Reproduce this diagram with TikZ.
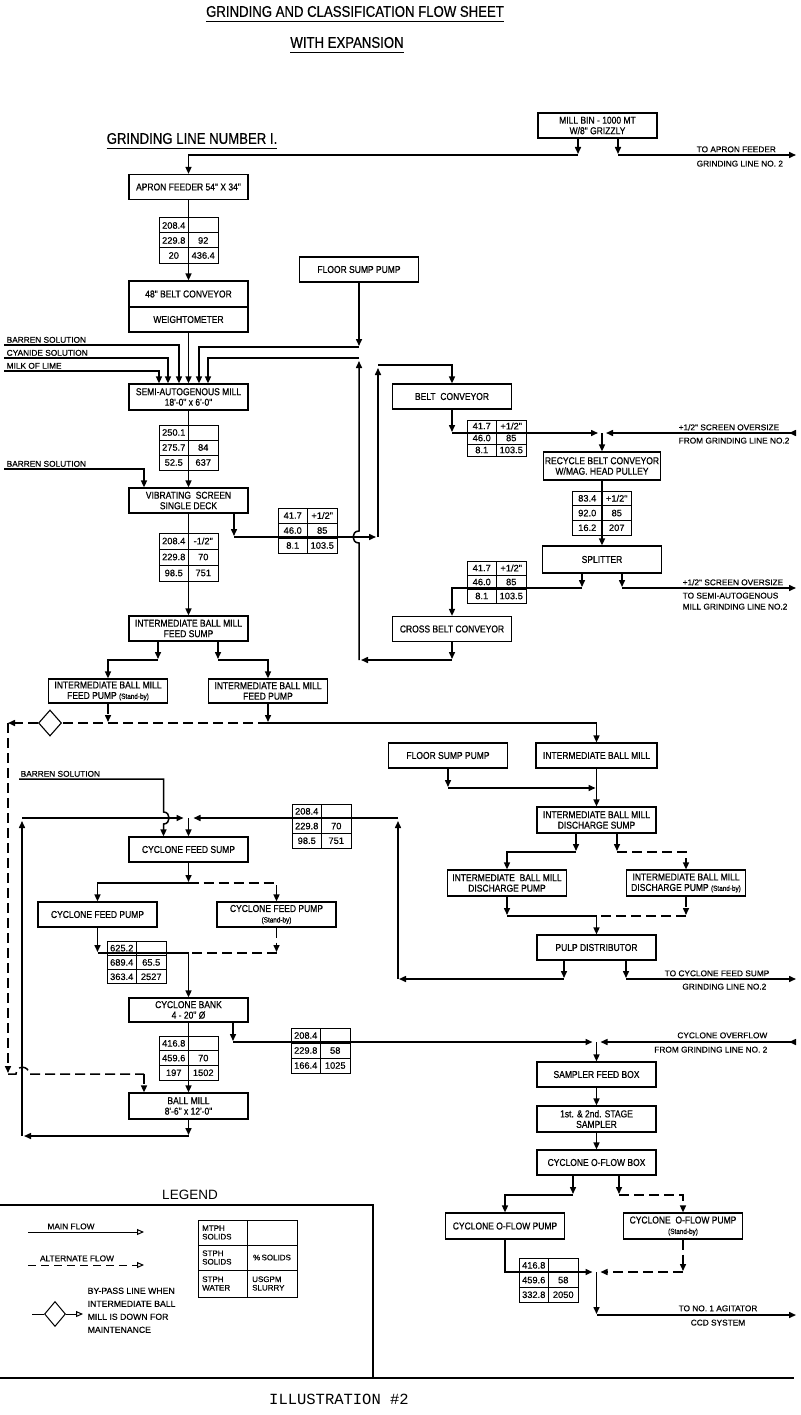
\documentclass[tikz,border=0pt]{standalone}
\usepackage{fontspec}
\setmainfont{Liberation Sans}
\newfontfamily\narrow[FakeStretch=0.85,FakeBold=0.6]{Liberation Sans}
\newfontfamily\lblfont[FakeBold=0.4]{Liberation Sans}
\newfontfamily\monofont{Liberation Mono}
\usetikzlibrary{arrows.meta,shapes.geometric}

\tikzset{
  unit/.style={draw, line width=1.2pt, minimum width=119pt, minimum height=25pt, inner sep=1pt, align=center, font={\narrow\fontsize{10}{10.5}\selectfont}},
  flow/.style={line width=1.5pt},
  alt/.style={flow, dash pattern=on 10pt off 5pt},
  lbl/.style={inner sep=0.5pt, font={\lblfont\fontsize{8.3}{11}\selectfont}},
  ttl/.style={inner sep=0pt, font={\narrow\fontsize{15.5}{17}\selectfont}},
  cell/.style={inner sep=0pt, font={\lblfont\fontsize{9.3}{9.5}\selectfont}},
  tabline/.style={line width=1pt},
  valve/.style={draw, diamond, line width=1.1pt, inner sep=0pt},
  >={Triangle[length=7pt,width=6pt]},
  inlet/.style={flow, {Triangle[reversed,length=7pt,width=6pt]}->},
}
\newcommand\sby{{\fontsize{7.5}{9}\selectfont(Stand-by)}}

% data table: [row height]{name}{top left}{six cells}
\newcommand\flowtab[9][15]{%
  \begin{scope}[shift={(#3)}]
    \draw[tabline] (0,0) rectangle (59,3*#1);
    \draw[tabline] (29.5,0) -- (29.5,3*#1) (0,#1) -- (59,#1) (0,2*#1) -- (59,2*#1);
    \node[cell] (#2-1) at (14.75,0.5*#1) {#4};
    \node[cell] (#2-2) at (44.25,0.5*#1) {#5};
    \node[cell] (#2-3) at (14.75,1.5*#1) {#6};
    \node[cell] (#2-4) at (44.25,1.5*#1) {#7};
    \node[cell] (#2-5) at (14.75,2.5*#1) {#8};
    \node[cell] (#2-6) at (44.25,2.5*#1) {#9};
  \end{scope}}

\begin{document}
\begin{tikzpicture}[x=1pt,y=-1pt]
\useasboundingbox (0,0) rectangle (800,1415);

% titles
\node[ttl] (title1) at (355,11.5) {GRINDING AND CLASSIFICATION FLOW SHEET};
\node[ttl] (title2) at (347,42.5) {WITH EXPANSION};
\node[ttl] (line1) at (192,138.5) {GRINDING LINE NUMBER I.};
\foreach \t in {title1,title2,line1}
  \draw[line width=1.3pt] ([yshift=-4pt]\t.south west) -- ([yshift=-4pt]\t.south east);

% units
\node[unit] (bin) at (597.5,125.5) {MILL BIN - 1000 MT\\W/8" GRIZZLY};
\node[unit] (apron) at (188.5,187) {APRON FEEDER 54" X 34"};
\node[unit, minimum height=26pt] (belt48) at (188.5,294) {48" BELT CONVEYOR};
\node[unit] (weigh) at (188.5,319.5) {WEIGHTOMETER};
\node[unit] (fsp1) at (359,269.5) {FLOOR SUMP PUMP};
\node[unit, minimum height=26pt] (sag) at (188.5,397) {SEMI-AUTOGENOUS MILL\\18'-0" x 6'-0"};
\node[unit] (screen) at (188.5,500.5) {VIBRATING \ SCREEN\\SINGLE DECK};
\node[unit] (feedsump) at (188.5,628.5) {INTERMEDIATE BALL MILL\\FEED SUMP};
\node[unit, minimum height=24pt] (ibmpumpsb) at (108,691) {INTERMEDIATE BALL MILL\\FEED PUMP \sby};
\node[unit, minimum height=24pt] (ibmpump) at (268,691) {INTERMEDIATE BALL MILL\\FEED PUMP};
\node[unit] (beltc) at (452,396.5) {BELT \ CONVEYOR};
\node[unit, minimum width=117pt, minimum height=28pt] (recycle) at (602,466) {RECYCLE BELT CONVEYOR\\W/MAG. HEAD PULLEY};
\node[unit, minimum height=27pt] (splitter) at (602,559.5) {SPLITTER};
\node[unit] (crossbelt) at (452,629) {CROSS BELT CONVEYOR};
\node[unit] (fsp2) at (448,755.5) {FLOOR SUMP PUMP};
\node[unit, minimum width=121pt] (ibm) at (596.5,755.5) {INTERMEDIATE BALL MILL};
\node[unit, minimum height=26pt] (dsump) at (596.5,820) {INTERMEDIATE BALL MILL\\DISCHARGE SUMP};
\node[unit, minimum height=26pt] (dpump) at (507,883) {INTERMEDIATE \ BALL MILL\\DISCHARGE PUMP};
\node[unit, minimum height=26pt] (dpumpsb) at (686,883) {INTERMEDIATE BALL MILL\\DISCHARGE PUMP \sby};
\node[unit] (pulp) at (596.5,947.5) {PULP DISTRIBUTOR};
\node[unit] (cfsump) at (188.5,849.5) {CYCLONE FEED SUMP};
\node[unit] (cfpump) at (97.5,914.5) {CYCLONE FEED PUMP};
\node[unit] (cfpumpsb) at (276.5,914.5) {CYCLONE FEED PUMP\\\sby};
\node[unit, minimum height=24pt] (cbank) at (188.5,1010) {CYCLONE BANK\\4 - 20" Ø};
\node[unit, minimum height=26pt] (ballmill) at (188.5,1106) {BALL MILL\\8'-6" x 12'-0"};
\node[unit] (sfbox) at (596.5,1074.5) {SAMPLER FEED BOX};
\node[unit, minimum height=26pt] (sampler) at (596.5,1119) {1st. \& 2nd. STAGE\\SAMPLER};
\node[unit] (ofbox) at (596.5,1162.5) {CYCLONE O-FLOW BOX};
\node[unit, minimum height=26pt] (ofpump) at (505,1226) {CYCLONE O-FLOW PUMP};
\node[unit, minimum height=26pt] (ofpumpsb) at (683,1226) {CYCLONE \ O-FLOW PUMP\\\sby};
\node[valve, minimum width=23pt, minimum height=26pt] (bypass) at (50,723) {};

% tables
\flowtab{t1}{159,218}{208.4}{}{229.8}{92}{20}{436.4}
\flowtab{t2}{159,425}{250.1}{}{275.7}{84}{52.5}{637}
\flowtab[16]{t3}{159,533}{208.4}{-1/2"}{229.8}{70}{98.5}{751}
\flowtab{t4}{278,508}{41.7}{+1/2"}{46.0}{85}{8.1}{103.5}
\flowtab[12]{t5}{467,420}{41.7}{+1/2"}{46.0}{85}{8.1}{103.5}
\flowtab[14.7]{t6}{572.5,491}{83.4}{+1/2"}{92.0}{85}{16.2}{207}
\flowtab[14]{t7}{467,561}{41.7}{+1/2"}{46.0}{85}{8.1}{103.5}
\flowtab[14.7]{t8}{292,804}{208.4}{}{229.8}{70}{98.5}{751}
\flowtab[14.3]{t9}{107,941}{625.2}{}{689.4}{65.5}{363.4}{2527}
\flowtab[14.7]{t10}{159,1036}{416.8}{}{459.6}{70}{197}{1502}
\flowtab{t11}{291,1028}{208.4}{}{229.8}{58}{166.4}{1025}
\flowtab[14.7]{t12}{519,1258}{416.8}{}{459.6}{58}{332.8}{2050}

% mill bin to apron feeder
\coordinate (jA) at (578,155);
\coordinate (jB) at (618,155);
\coordinate (toApron) at (796,155);
\draw[flow,->,shorten >=1pt] (bin.south -| jA) -- (jA);
\draw[flow,->] (jA) -| (apron.north);
\draw[flow,->,shorten >=1pt] (bin.south -| jB) -- (jB);
\draw[flow,->] (jB) -- (toApron);
\node[lbl, anchor=south west] (lapr1) at (696,153) {TO APRON FEEDER};
\node[lbl, anchor=north west] (lapr2) at (696,160) {GRINDING LINE NO. 2};

\draw[flow,->] (apron) -- (belt48);
\draw[flow,->] (weigh) -- (sag);

% solutions into SAG mill
\coordinate (bs1) at (4,345);
\coordinate (cs1) at (4,358);
\coordinate (ml1) at (4,371);
\draw[flow,->] (bs1) -| ([xshift=-9.5pt]sag.north);
\draw[flow,->] (cs1) -| ([xshift=-20.5pt]sag.north);
\draw[flow,->] (ml1) -| ([xshift=-29.5pt]sag.north);
\node[lbl, anchor=south west] (lbs1) at (6,343.5) {BARREN SOLUTION};
\node[lbl, anchor=south west] (lcs1) at (6,356.5) {CYANIDE SOLUTION};
\node[lbl, anchor=south west] (lml1) at (6,369.5) {MILK OF LIME};

% floor sump pump to SAG mill
\coordinate (jC) at (359,347);
\draw[flow,->,shorten >=1pt] (fsp1) -- (jC);
\draw[flow,->] (jC) -| ([xshift=10.5pt]sag.north);

% cross belt conveyor back to SAG mill
\coordinate (jD) at (452,660);
\coordinate (jE) at (359,660);
\coordinate (jF) at (359,358);
\draw[flow,->,shorten >=1pt] (crossbelt) -- (jD);
\draw[flow,->,shorten >=2pt] (jD) -- (jE);
\draw[flow,->,shorten >=3pt] (jE) -- (359,543) .. controls (351,543) and (351,531) .. (359,531) -- (jF);
\draw[flow,->] (jF) -| ([xshift=19.5pt]sag.north);

% SAG mill to screen
\draw[flow,->] (sag) -- (screen);
\coordinate (bs2) at (4,469);
\draw[flow,->] (bs2) -| ([xshift=-44.5pt]screen.north);
\node[lbl, anchor=south west] (lbs2) at (6,467.5) {BARREN SOLUTION};

% screen oversize to belt conveyor
\coordinate (jG) at (234,537);
\coordinate (jH) at (378,537);
\coordinate (jI) at (378,365);
\draw[flow,->,shorten >=1pt] (screen.south -| jG) -- (jG);
\draw[flow,->,shorten >=2pt] (jG) -- (jH);
\draw[flow,->,shorten >=3pt] (jH) -- (jI);
\draw[flow,->] (jI) -| (beltc.north);

% belt conveyor to recycle belt conveyor
\coordinate (jJ) at (452,433);
\coordinate (jK) at (602,433);
\coordinate (fromOs) at (796,433);
\draw[flow,->,shorten >=1pt] (beltc) -- (jJ);
\draw[flow,->,shorten >=4pt] (jJ) -- (jK);
\draw[inlet,shorten >=4pt] (fromOs) -- (jK);
\draw[flow,->] (jK) -- (recycle);
\node[lbl, anchor=south west] (los1) at (678,431) {+1/2" SCREEN OVERSIZE};
\node[lbl, anchor=north west] (los2) at (678,437) {FROM GRINDING LINE NO.2};
\draw[flow,->] (recycle) -- (splitter);

% splitter
\coordinate (jL) at (582,588);
\coordinate (jM) at (622,588);
\coordinate (toSag2) at (796,588);
\draw[flow,->,shorten >=1pt] (splitter.south -| jL) -- (jL);
\draw[flow,->] (jL) -| (crossbelt.north);
\draw[flow,->,shorten >=1pt] (splitter.south -| jM) -- (jM);
\draw[flow,->] (jM) -- (toSag2);
\node[lbl, anchor=south west] (lsp1) at (682,586) {+1/2" SCREEN OVERSIZE};
\node[lbl, anchor=north west, align=left] (lsp2) at (682,592) {TO SEMI-AUTOGENOUS\\MILL GRINDING LINE NO.2};

% screen undersize to intermediate ball mill
\draw[flow,->] (screen) -- (feedsump);
\coordinate (jN) at (158,660);
\coordinate (jO) at (218,660);
\draw[flow,->,shorten >=1pt] (feedsump.south -| jN) -- (jN);
\draw[flow,->] (jN) -| (ibmpumpsb.north);
\draw[flow,->,shorten >=1pt] (feedsump.south -| jO) -- (jO);
\draw[flow,->] (jO) -| (ibmpump.north);
\coordinate (jP) at (108,723);
\coordinate (jQ) at (268,723);
\draw[alt,->,shorten >=1pt] (ibmpumpsb) -- (jP);
\draw[flow,->,shorten >=1pt] (ibmpump) -- (jQ);
\draw[flow,->] (jQ) -| (ibm.north);

% by-pass to ball mill
\coordinate (jR) at (8,723);
\coordinate (jS) at (8,1074);
\coordinate (jT) at (144,1074);
\draw[alt] (jQ) -- (bypass.east);
\draw[alt,->] (bypass.west) -- (jR);
\draw[alt,->,shorten >=1pt] (jR) -- (jS);
\draw[alt] (jS) -- (16,1074) .. controls (16,1065) and (29,1065) .. (29,1074) -- (jT);
\draw[alt,->] (jT) -- (jT |- ballmill.north);

% intermediate ball mill circuit
\coordinate (jU) at (596.5,788);
\draw[flow,->,shorten >=1pt] (fsp2) -- (fsp2 |- jU);
\draw[flow,->,shorten >=1pt] (fsp2 |- jU) -- (jU);
\draw[flow,->] (ibm) -- (dsump);
\coordinate (jV) at (576,852);
\coordinate (jW) at (617,852);
\draw[flow,->,shorten >=1pt] (dsump.south -| jV) -- (jV);
\draw[flow,->] (jV) -| (dpump.north);
\draw[flow,->,shorten >=1pt] (dsump.south -| jW) -- (jW);
\draw[alt,->] (jW) -| (dpumpsb.north);
\coordinate (jX) at (596.5,916);
\draw[flow,->,shorten >=1pt] (dpump) -- (dpump |- jX);
\draw[flow] (dpump |- jX) -- (jX);
\draw[alt,->,shorten >=1pt] (dpumpsb) -- (dpumpsb |- jX);
\draw[alt] (dpumpsb |- jX) -- (jX);
\draw[flow,->] (jX) -- (pulp);

% pulp distributor to cyclone feed sump
\coordinate (jY) at (564,979);
\coordinate (jZ) at (626,979);
\coordinate (ja) at (398,979);
\coordinate (jb) at (398,818);
\coordinate (jc) at (188.5,818);
\coordinate (toCfs2) at (796,979);
\draw[flow,->,shorten >=1pt] (pulp.south -| jY) -- (jY);
\draw[flow,->,shorten >=1pt] (jY) -- (ja);
\draw[flow,->,shorten >=3pt] (ja) -- (jb);
\draw[flow,->,shorten >=5pt] (jb) -- (jc);
\draw[flow,->,shorten >=1pt] (pulp.south -| jZ) -- (jZ);
\draw[flow,->] (jZ) -- (toCfs2);
\node[lbl, anchor=south east] (lcfs1) at (770,977) {TO CYCLONE FEED SUMP};
\node[lbl, anchor=north east] (lcfs2) at (767,983) {GRINDING LINE NO.2};

% ball mill discharge back to cyclone feed sump
\coordinate (jd) at (188.5,1136);
\coordinate (je) at (22,1136);
\coordinate (jf) at (22,818);
\draw[flow,->,shorten >=1pt] (ballmill) -- (jd);
\draw[flow,->,shorten >=2pt] (jd) -- (je);
\draw[flow,->,shorten >=3pt] (je) -- (jf);
\draw[flow,->,shorten >=5pt] (jf) -- (jc);
\draw[flow,->] (jc) -- (cfsump);
\coordinate (bs3) at (19,779);
\draw[flow,->] (bs3) -- (163.5,779) -- (163.5,812) .. controls (171,812) and (171,824) .. (163.5,824) -- ([xshift=-25pt]cfsump.north);
\node[lbl, anchor=south west] (lbs3) at (20,777.5) {BARREN SOLUTION};

% cyclone feed pumps
\coordinate (jg) at (188.5,883);
\draw[flow,->,shorten >=1pt] (cfsump) -- (jg);
\draw[flow,->] (jg) -| (cfpump.north);
\draw[alt,->] (jg) -| (cfpumpsb.north);
\coordinate (jh) at (188.5,953);
\draw[flow,->,shorten >=1pt] (cfpump) -- (cfpump |- jh);
\draw[flow] (cfpump |- jh) -- (jh);
\draw[alt,->,shorten >=1pt] (cfpumpsb) -- (cfpumpsb |- jh);
\draw[alt] (cfpumpsb |- jh) -- (jh);
\draw[flow,->] (jh) -- (cbank);

% cyclone bank
\draw[flow,->] (cbank) -- (ballmill);
\coordinate (ji) at (233,1042);
\coordinate (jj) at (596.5,1042);
\coordinate (fromOf) at (796,1042);
\draw[flow,->,shorten >=1pt] (cbank.south -| ji) -- (ji);
\draw[flow,->,shorten >=4pt] (ji) -- (jj);
\draw[inlet,shorten >=4pt] (fromOf) -- (jj);
\node[lbl, anchor=south east] (lof1) at (768,1039) {CYCLONE OVERFLOW};
\node[lbl, anchor=north east] (lof2) at (768,1046) {FROM GRINDING LINE NO. 2};
\draw[flow,->] (jj) -- (sfbox);
\draw[flow,->] (sfbox) -- (sampler);
\draw[flow,->] (sampler) -- (ofbox);

% cyclone overflow pumps
\coordinate (jk) at (573,1195);
\coordinate (jl) at (619,1195);
\draw[flow,->,shorten >=1pt] (ofbox.south -| jk) -- (jk);
\draw[flow,->] (jk) -| (ofpump.north);
\draw[flow,->,shorten >=1pt] (ofbox.south -| jl) -- (jl);
\draw[alt,->] (jl) -| (ofpumpsb.north);
\coordinate (jm) at (596.5,1272);
\coordinate (jn) at (596.5,1315);
\coordinate (toAgit) at (796,1315);
\draw[flow,->,shorten >=4pt] (ofpump.south) |- (jm);
\draw[alt,->,shorten >=1pt] (ofpumpsb) -- (ofpumpsb |- jm);
\draw[alt,->,shorten >=4pt] (ofpumpsb |- jm) -- (jm);
\draw[flow,->,shorten >=1pt] (jm) -- (jn);
\draw[flow,->] (jn) -- (toAgit);
\node[lbl, anchor=south] (lag1) at (718,1312) {TO NO. 1 AGITATOR};
\node[lbl, anchor=north] (lag2) at (718,1319) {CCD SYSTEM};

% legend
\node[inner sep=0pt, font=\fontsize{13.5}{15}\selectfont] (legend) at (190,1195) {LEGEND};
\coordinate (lgA) at (0,1205);
\coordinate (lgB) at (373,1205);
\coordinate (lgC) at (373,1378);
\coordinate (botA) at (0,1378);
\coordinate (botB) at (794,1378);
\draw[line width=1.3pt] (lgA) -- (lgB) -- (lgC);
\draw[line width=1.3pt] (botA) -- (botB);
\coordinate (mfA) at (28,1232);
\coordinate (mfB) at (144,1232);
\coordinate (afA) at (28,1265);
\coordinate (afB) at (144,1265);
\draw[line width=1pt,-{Triangle[open,length=7pt,width=6pt]}] (mfA) -- (mfB);
\draw[line width=1pt,dash pattern=on 8pt off 5pt,-{Triangle[open,length=7pt,width=6pt]}] (afA) -- (afB);
\node[lbl, anchor=south] (lmain) at (71,1230) {MAIN FLOW};
\node[lbl, anchor=south] (lalt) at (77,1262) {ALTERNATE FLOW};
\node[valve, line width=1pt, minimum width=21pt, minimum height=25pt] (legvalve) at (55,1314) {};
\coordinate (lvA) at (32,1314);
\coordinate (lvB) at (83,1314);
\draw[line width=1pt] (lvA) -- (legvalve.west);
\draw[line width=1pt,-{Triangle[open,length=7pt,width=6pt]}] (legvalve.east) -- (lvB);
\node[lbl, anchor=north west, align=left, font={\lblfont\fontsize{8.7}{13}\selectfont}] (lbypass) at (87,1287) {BY-PASS LINE WHEN\\INTERMEDIATE BALL\\MILL IS DOWN FOR\\MAINTENANCE};
\draw[tabline] (198,1220) rectangle (297,1297);
\draw[tabline] (247,1220) -- (247,1297) (198,1245) -- (297,1245) (198,1270) -- (297,1270);
\node[cell, anchor=west, align=left, font={\lblfont\fontsize{8}{8.5}\selectfont}] (lk1) at (202,1232.5) {MTPH\\SOLIDS};
\node[cell, anchor=west, align=left, font={\lblfont\fontsize{8}{8.5}\selectfont}] (lk2) at (202,1257.5) {STPH\\SOLIDS};
\node[cell, anchor=west, align=left, font={\lblfont\fontsize{8}{8.5}\selectfont}] (lk3) at (202,1283.5) {STPH\\WATER};
\node[cell, font={\lblfont\fontsize{8}{8.5}\selectfont}] (lk4) at (272,1257.5) {\%\,SOLIDS};
\node[cell, anchor=west, align=left, font={\lblfont\fontsize{8}{8.5}\selectfont}] (lk5) at (252,1283.5) {USGPM\\SLURRY};

\node[inner sep=0pt, font=\monofont\fontsize{15.5}{17}\selectfont] (illus) at (339,1399) {ILLUSTRATION \#2};
\end{tikzpicture}
\end{document}
